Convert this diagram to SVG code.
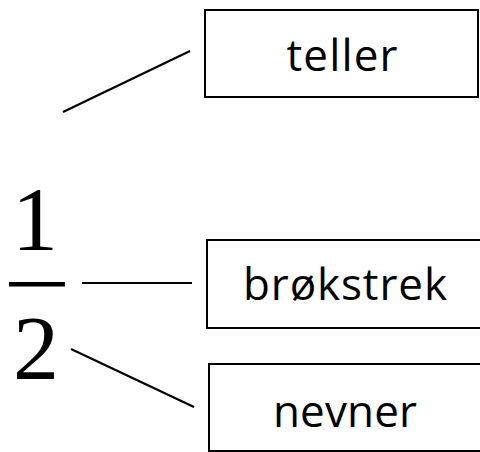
<svg xmlns="http://www.w3.org/2000/svg" width="480" height="452" viewBox="0 0 480 452">
<style>
.box{fill:#fff;stroke:#000;stroke-width:2}
.lbl{font-family:"Open Sans","Noto Sans",sans-serif;font-size:44px;fill:#000;text-anchor:middle}
.num{font-family:"Liberation Serif",serif;font-size:92px;fill:#000;text-anchor:middle}
.con{stroke:#000;stroke-width:2.2;fill:none}
</style>
<rect width="480" height="452" fill="#fff"/>
<g id="fraction">
<text class="num" x="35" y="250">1</text>
<rect x="9" y="282" width="56" height="4.5" fill="#000"/>
<text class="num" x="36" y="379">2</text>
</g>
<g id="teller">
<rect class="box" x="205" y="10" width="273" height="87"/>
<text class="lbl" x="342" y="71" textLength="111">teller</text>
</g>
<g id="brokstrek">
<rect class="box" x="207" y="240" width="280" height="88"/>
<text class="lbl" x="345" y="300" textLength="204">brøkstrek</text>
</g>
<g id="nevner">
<rect class="box" x="209" y="364" width="280" height="87"/>
<text class="lbl" x="345" y="427" textLength="144">nevner</text>
</g>
<g id="connectors">
<line class="con" x1="63" y1="112" x2="190" y2="51"/>
<line class="con" x1="82" y1="283" x2="192" y2="283"/>
<line class="con" x1="71" y1="349" x2="194" y2="407"/>
</g>
</svg>
